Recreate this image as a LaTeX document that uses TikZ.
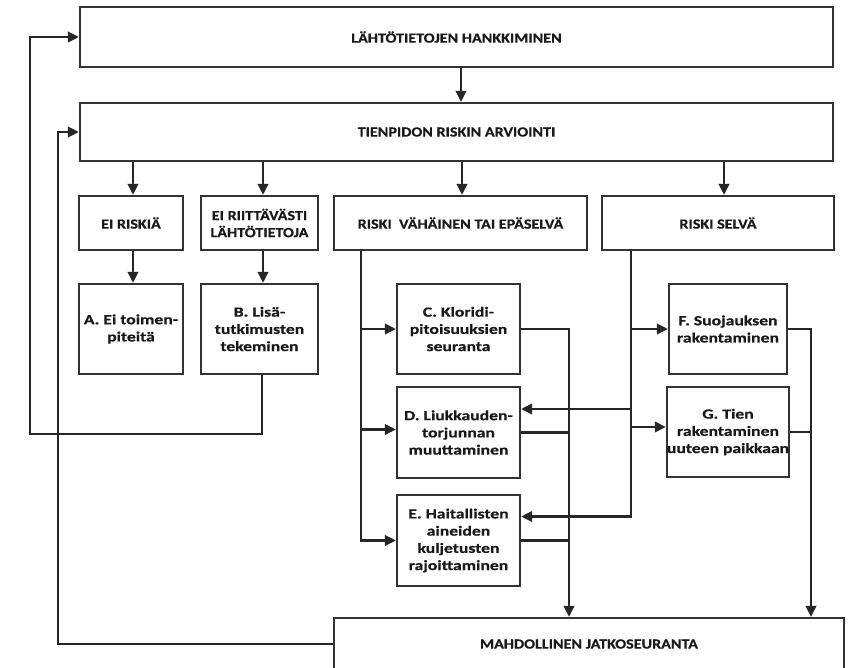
\documentclass[tikz,border=0pt]{standalone}
\usepackage{fontspec}
\setmainfont{Carlito}
\newfontfamily\capfont{Carlito}[FakeStretch=1.15, BoldFeatures={FakeBold=0.5}]
\newfontfamily\lowfont{Carlito}[FakeStretch=1.26, BoldFeatures={FakeBold=0.5}]
\usetikzlibrary{arrows.meta}
\begin{document}
\begin{tikzpicture}[x=1pt,y=-1pt,
  box/.style={draw=black!80, line width=2.3pt, rectangle, inner sep=0pt, align=center,
    font=\lowfont\fontsize{14}{17.2}\selectfont\bfseries, text=black!90},
  capbox/.style={box, font=\capfont\fontsize{14}{17}\selectfont\bfseries},
  arr/.style={draw=black!85, line width=2.3pt, -{Triangle[length=11pt,width=10.5pt]}},
  ln/.style={draw=black!85, line width=2.3pt},
]
\useasboundingbox (0,0) rectangle (848,667);
\fill[white] (0,0) rectangle (848,667);
\clip (0,0) rectangle (848,667);

% boxes
\node[capbox, minimum width=753pt, minimum height=60pt] (top) at (456.5,37) {LÄHTÖTIETOJEN HANKKIMINEN};
\node[capbox, minimum width=753pt, minimum height=58pt] (box2) at (456.5,132) {TIENPIDON RISKIN ARVIOINTI};
\node[capbox, minimum width=104pt, minimum height=54pt] (r1) at (131,223) {EI RISKIÄ};
\node[capbox, minimum width=117pt, minimum height=54pt] (r2) at (259.5,223) {EI RIITTÄVÄSTI\\LÄHTÖTIETOJA};
\node[capbox, minimum width=253pt, minimum height=54pt] (r3) at (460.5,223) {RISKI\ \ VÄHÄINEN TAI EPÄSELVÄ};
\node[capbox, minimum width=232pt, minimum height=54pt] (r4) at (718,223) {RISKI SELVÄ};
\node[box, minimum width=104pt, minimum height=90pt] (A) at (131,329) {A. Ei toimen-\\piteitä};
\node[box, minimum width=117pt, minimum height=90pt] (B) at (259.5,329) {B. Lisä-\\tutkimusten\\tekeminen};
\node[box, minimum width=123pt, minimum height=90pt] (C) at (458.5,329) {C. Kloridi-\\pitoisuuksien\\seuranta};
\node[box, minimum width=123pt, minimum height=91pt] (D) at (458.5,432.5) {D. Liukkauden-\\torjunnan\\muuttaminen};
\node[box, minimum width=123pt, minimum height=91pt] (E) at (458.5,540.5) {E. Haitallisten\\aineiden\\kuljetusten\\rajoittaminen};
\node[box, minimum width=118pt, minimum height=90pt] (F) at (728,329) {F. Suojauksen\\rakentaminen};
\node[box, minimum width=118pt, minimum height=90pt] (G) at (728,432) {G. Tien\\rakentaminen\\uuteen paikkaan};
\node[capbox, minimum width=510pt, minimum height=52pt] (M) at (589,644) {MAHDOLLINEN JATKOSEURANTA};

% helper coordinates
\coordinate (xt) at (461,0);
\coordinate (x1) at (133,0);
\coordinate (x2) at (263,0);
\coordinate (x3) at (462,0);
\coordinate (x4) at (724,0);
\coordinate (vL) at (361,0);
\coordinate (vR) at (631,0);
\coordinate (cR) at (569,0);
\coordinate (fR) at (811,0);
\coordinate (lo) at (30,434);
\coordinate (li) at (58,0);
\coordinate (dL) at ([yshift=3pt]D.west);
\coordinate (gA) at ([yshift=5pt]G.west);
\coordinate (dR) at ([yshift=23.5pt]D.east);
\coordinate (eR) at ([yshift=24pt]E.east);
\coordinate (bS) at ([xshift=2.5pt]B.south);

% connectors
\draw[arr] (top.south -| xt) -- (box2.north -| xt);
\draw[arr] (box2.south -| x1) -- (r1.north -| x1);
\draw[arr] (box2.south -| x2) -- (r2.north -| x2);
\draw[arr] (box2.south -| x3) -- (r3.north -| x3);
\draw[arr] (box2.south -| x4) -- (r4.north -| x4);
\draw[arr] (r1.south -| x1) -- (A.north -| x1);
\draw[arr] (r2.south -| x2) -- (B.north -| x2);

\draw[arr] (r3.south -| vL) |- (E.west);
\draw[arr] (vL |- C.west) -- (C.west);
\draw[arr] (vL |- dL) -- (dL);

\draw[arr] (r4.south -| vR) |- (eR);
\draw[arr] (vR |- F.west) -- (F.west);
\draw[arr] (vR |- gA) -- (gA);
\draw[arr] (vR |- dR) -- (dR);

\draw[arr] (C.east) -| (M.north -| cR);
\draw[ln] (D.east) -- (D.east -| cR);
\draw[ln] (E.east) -- (E.east -| cR);
\draw[arr] (F.east) -| (M.north -| fR);
\draw[ln] (G.east) -- (G.east -| fR);

\draw[arr] (bS) |- (lo) |- (top.west);
\draw[arr] (M.west) -| (li |- box2.west) -- (box2.west);
\end{tikzpicture}
\end{document}
